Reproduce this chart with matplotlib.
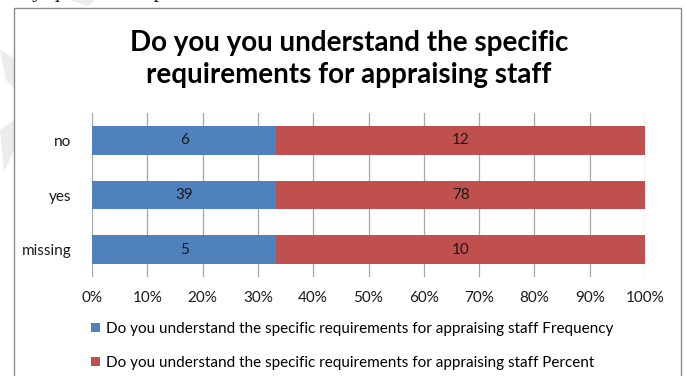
import matplotlib.pyplot as plt
import numpy as np
from matplotlib.patches import Rectangle, Polygon

# survey answers, bottom to top as drawn
categories = ["missing", "yes", "no"]
frequency = [5, 39, 6]
percent = [10, 78, 12]

title = "Do you you understand the specific\nrequirements for appraising staff"
series_names = [
    "Do you understand the specific requirements for appraising staff Frequency",
    "Do you understand the specific requirements for appraising staff Percent",
]
xticks = np.arange(0, 101, 10)

BLUE = "#4F81BD"
RED = "#C0504D"
FONT = "Lato"

W, H = 686, 376
fig = plt.figure(figsize=(W / 100, H / 100), dpi=100)

# page text running above the chart, and the faint page watermark
fig.text(0.03, 1.0 + 3 / H, "by question as presented below", family="Liberation Serif",
         fontsize=16, color="#222222", va="baseline", ha="left")
for pts in ([(0, 50), (14, 58), (14, 88), (6, 80)], [(0, 130), (14, 120), (14, 150), (4, 172)],
            [(70, 0), (95, 0), (88, 6)]):
    fig.patches.append(Polygon([(x / W, 1 - y / H) for x, y in pts], closed=True,
                               transform=fig.transFigure, facecolor="#ececec",
                               edgecolor="none", zorder=0))

# chart frame
fig.patches.append(Rectangle((14 / W, -0.05), (681 - 14) / W, 1.05 - 8 / H,
                             transform=fig.transFigure, facecolor="white",
                             edgecolor="#8c8c8c", linewidth=1.0, zorder=0.5))

ax = fig.add_axes([92 / W, 1 - 277 / H, (645 - 92) / W, (277 - 113) / H])
ax.set_zorder(1)
ax.patch.set_alpha(0)

freq = np.array(frequency, dtype=float)
pct = np.array(percent, dtype=float)
total = freq + pct
freq_share = freq / total * 100
pct_share = pct / total * 100
y = np.arange(len(categories))

b1 = ax.barh(y, freq_share, height=0.53, color=BLUE, label=series_names[0], zorder=2)
b2 = ax.barh(y, pct_share, left=freq_share, height=0.53, color=RED,
             label=series_names[1], zorder=2)
for bars, vals in ((b1, frequency), (b2, percent)):
    ax.bar_label(bars, labels=[str(v) for v in vals], label_type="center",
                 fontsize=11, family=FONT, color="#1a1a1a")

ax.set_xlim(0, 100)
ax.set_ylim(-0.5, len(categories) - 0.5)
ax.set_xticks(xticks)
ax.set_xticklabels([f"{t}%" for t in xticks], family=FONT, fontsize=11, color="#1a1a1a")
ax.set_yticks(y)
ax.set_yticklabels(categories, family=FONT, fontsize=11, color="#1a1a1a")
ax.tick_params(axis="both", length=0)
ax.tick_params(axis="x", pad=10)
ax.tick_params(axis="y", pad=15)
ax.xaxis.grid(True, color="#a6a6a6", linewidth=0.9, zorder=0)
ax.set_axisbelow(True)
for s in ax.spines.values():
    s.set_visible(False)

fig.text(349 / W, 1 - 59 / H, title, ha="center", va="center", family=FONT,
         fontweight="bold", fontsize=20, linespacing=1.33, color="#000000")

fig.legend(handles=[b1, b2], labels=series_names, loc="upper left",
           bbox_to_anchor=(91 / W, 1 - 322 / H), frameon=False, ncol=1,
           prop={"family": FONT, "size": 11}, handlelength=0.6, handleheight=0.6,
           handletextpad=0.4, labelspacing=1.3, borderpad=0, borderaxespad=0)

fig.savefig("out.png", dpi=100)
